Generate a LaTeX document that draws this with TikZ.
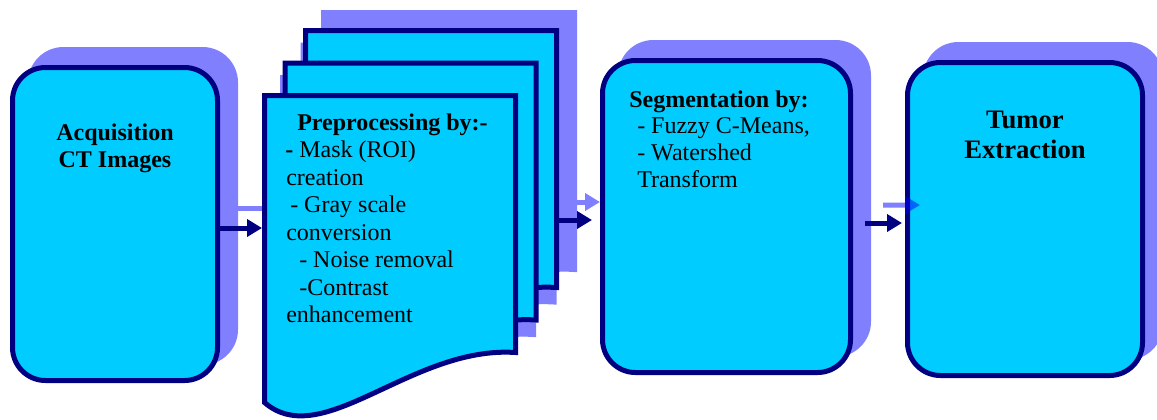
\documentclass[tikz,border=0pt]{standalone}
\usepackage{fontspec}
\setmainfont{LiberationSerif}[Extension=.ttf, UprightFont=*-Regular, BoldFont=*-Bold]
\usetikzlibrary{arrows.meta,calc}
\definecolor{navy}{HTML}{000080}
\definecolor{sky}{HTML}{00CCFF}
\definecolor{haze}{HTML}{8080FF}
\pgfdeclarelayer{shade}
\pgfdeclarelayer{links}
\pgfdeclarelayer{front}
\pgfsetlayers{shade,links,main,front}
\tikzset{
  stage/.style={draw=navy, fill=sky, line width=3.75pt, rounded corners=24.75pt, inner sep=0pt},
  stageshade/.style={fill=haze, rounded corners=26.6pt},
  sheet/.style={draw=navy, fill=sky, line width=3.75pt, line join=miter},
  sheetshade/.style={draw=haze, fill=haze, line width=3.75pt, line join=miter},
  flow/.style={draw=navy, line width=3.75pt, -{Triangle[length=11.25pt,width=12.75pt]}},
  ghost/.style={draw=haze, line width=3.75pt, -{Triangle[length=11.25pt,width=12.75pt]}},
  ghostover/.style={draw=blue, line width=3.75pt, -{Triangle[length=11.25pt,width=12.75pt]}},
  caption/.style={inner sep=0pt, font=\fontsize{18}{20.6}\selectfont},
}
\begin{document}
\begin{tikzpicture}[x=0.75pt,y=-0.75pt]
\useasboundingbox (0,0) rectangle (1157,419);

% process stages
\node[stage, minimum width=153.75pt, minimum height=234.75pt] (acq) at (115,224) {};
\node[stage, minimum width=186pt, minimum height=234pt] (seg) at (726.5,216.5) {};
\node[stage, minimum width=176.25pt, minimum height=234.75pt] (tum) at (1025,219) {};

% stack of document sheets, back to front
\foreach \dx/\dy in {41/-65, 20.5/-32.5, 0/0}{
  \begin{scope}[shift={(\dx,\dy)}]
    \draw[sheet] (264.5,95.5) -- (515.5,95.5) -- (515.5,352.5)
      .. controls (411.5,345.5) and (322.5,452.5) .. (264.5,402.5) -- cycle;
  \end{scope}
}
\node[inner sep=0pt, outer sep=1.875pt, minimum width=188.25pt, minimum height=192.75pt] (pre) at (390,224) {};

% drop shadows
\begin{pgfonlayer}{shade}
  \foreach \n in {acq,seg,tum}
    \fill[stageshade] ($(\n.south west)+(18,-18)$) rectangle ($(\n.north east)+(18,-18)$);
  \foreach \dx/\dy in {59/-83, 38.5/-50.5, 18/-18}{
    \begin{scope}[shift={(\dx,\dy)}]
      \filldraw[sheetshade] (264.5,95.5) -- (515.5,95.5) -- (515.5,352.5)
        .. controls (411.5,345.5) and (322.5,452.5) .. (264.5,402.5) -- cycle;
    \end{scope}
  }
\end{pgfonlayer}

% connectors
\coordinate (seg-out) at ($(seg.east |- 0,223)+(12,0)$);
\coordinate (seg-ghost) at ($(seg.east |- 0,205)+(30,0)$);
\coordinate (tum-ghost) at ($(tum.west |- 0,205)+(15,0)$);
\coordinate (pre-ghost) at ($(pre.west |- 0,208)+(20,0)$);
\begin{pgfonlayer}{links}
  \draw[ghost] (acq.east |- 0,208) -- (pre-ghost);
  \draw[ghost] (pre.east |- 0,202) -- (seg.west |- 0,202);
  \draw[flow] (acq.east |- 0,228) -- (pre.west |- 0,228);
  \draw[flow, shorten >=6pt] (pre.east |- 0,220) -- (seg.west |- 0,220);
  \draw[flow, shorten >=2.25pt] (seg-out) -- (tum.west |- 0,223);
\end{pgfonlayer}
\begin{pgfonlayer}{front}
  \begin{scope}[transparency group, opacity=0.5]
    \draw[ghostover] (seg-ghost) -- (tum-ghost);
  \end{scope}
\end{pgfonlayer}

% captions
\node[caption, anchor=north, align=center, font=\fontsize{18}{20.6}\selectfont\bfseries] (acqtext) at (115,121.3)
  {\rule{0pt}{14pt}Acquisition\\CT Images};
\node[caption, anchor=north west, align=left] (pretext) at (285,111.3)
  {\rule{0pt}{14pt}\hspace*{9pt}\textbf{Preprocessing by:-}\\
   \textbf{-} Mask (ROI)\\
   \hspace*{0.75pt}creation\\
   \hspace*{3.75pt}- Gray scale\\
   \hspace*{0.75pt}conversion\\
   \hspace*{10.5pt}- Noise removal\\
   \hspace*{10.5pt}-Contrast\\
   \hspace*{0.75pt}enhancement};
\node[caption, anchor=north west, align=left, font=\fontsize{18}{20}\selectfont] (segtext) at (629,88.3)
  {\rule{0pt}{14pt}\textbf{Segmentation by:}\\
   \hspace*{6pt}- Fuzzy C-Means,\\
   \hspace*{6pt}- Watershed\\
   \hspace*{6pt}Transform};
\node[caption, anchor=north, align=center, font=\fontsize{20}{22.5}\selectfont\bfseries] (tumtext) at (1025,109.3)
  {\rule{0pt}{14pt}Tumor\\Extraction};
\end{tikzpicture}
\end{document}
